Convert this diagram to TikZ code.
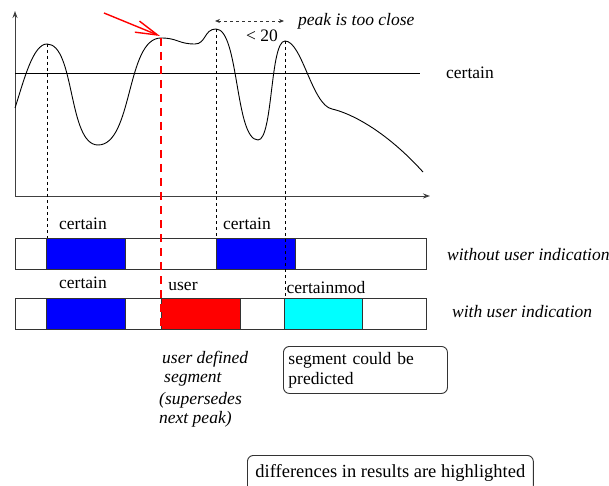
\documentclass[tikz,border=0pt]{standalone}
\usepackage{fontspec}
\setmainfont{Liberation Serif}
\usetikzlibrary{arrows.meta}
\definecolor{cyanfill}{RGB}{0,255,255}
\definecolor{bluefill}{RGB}{0,0,255}
\definecolor{redfill}{RGB}{255,0,0}
\begin{document}
\begin{tikzpicture}[x=1pt,y=-1pt,
  every node/.style={font=\rmfamily\fontsize{17.5}{20}\selectfont, inner sep=0pt},
  itl/.style={font=\rmfamily\itshape\fontsize{17.5}{20}\selectfont},
  axis/.style={draw=black!75, line width=0.9pt, -{Stealth[length=7pt,width=5pt]}},
  curve/.style={line width=0.9pt},
  guide/.style={line width=0.8pt, dash pattern=on 3pt off 3pt},
  redguide/.style={draw=redfill, line width=1.8pt, dash pattern=on 8pt off 6pt},
  gap/.style={guide, draw=black!80, {Stealth[length=5pt,width=4pt]}-{Stealth[length=5pt,width=4pt]}},
  bar/.style={draw=black!80, line width=0.9pt},
  roundbox/.style={draw=black!80, rounded corners=6pt, line width=0.9pt}
]
\useasboundingbox (0,0) rectangle (609,486);

% axes
\coordinate (O) at (15,196);
\coordinate (ytop) at (15,11);
\coordinate (xend) at (430,196);
\draw[axis] (O) -- (ytop);
\draw[axis] (O) -- (xend);

% threshold line
\coordinate (t0) at (15,73);
\coordinate (t1) at (420,73);
\draw[line width=0.9pt] (t0) -- (t1);
\node (certlbl) at (470,73) {certain};

% peaks
\coordinate (p1) at (47,44);
\coordinate (p2) at (161,38);
\coordinate (p3) at (216,29);
\coordinate (p4) at (285,41);

% curve
\draw[curve] (15,108) .. controls (24,80) and (33,44) .. (p1)
  .. controls (75,44) and (68,145) .. (98,145)
  .. controls (133,145) and (126,38) .. (p2)
  .. controls (178,38) and (178,44) .. (195,44)
  .. controls (206,44) and (204,29) .. (p3)
  .. controls (239,29) and (235,140) .. (258,140)
  .. controls (273,140) and (270,41) .. (p4)
  .. controls (302,41) and (312,105) .. (332,109)
  .. controls (350,113) and (385,130) .. (423,172);

% bars
\coordinate (b1a) at (15,238);
\coordinate (b1b) at (426,269);
\coordinate (b2a) at (15,298);
\coordinate (b2b) at (426,329);
\draw[bar, fill=white] (b1a) rectangle (b1b);
\draw[bar, fill=bluefill] (46,238) rectangle (125,269);
\draw[bar, fill=bluefill] (216,238) rectangle (295,269);
\draw[bar, fill=white] (b2a) rectangle (b2b);
\draw[bar, fill=bluefill] (46,298) rectangle (125,329);
\draw[bar, fill=redfill] (161,298) rectangle (240,329);
\draw[bar, fill=cyanfill] (284,298) rectangle (362,329);

% guides
\coordinate (g1) at (47,238);
\coordinate (g3) at (216,238);
\coordinate (g4) at (285,298);
\coordinate (g2) at (161,329);
\draw[guide] (p1) -- (g1);
\draw[guide] (p3) -- (g3);
\draw[guide] (p4) -- (g4);
\draw[redguide] (p2) -- (g2);

% red arrow
\coordinate (ra) at (104,13);
\coordinate (rb) at (160,36);
\draw[redfill, line width=1.4pt, -{Straight Barb[length=22pt,width=12pt]}] (ra) -- (rb);

% distance arrow
\coordinate (d1) at (215,21);
\coordinate (d2) at (284,21);
\draw[gap] (d1) -- (d2);
\node (lt) at (262,36) {< 20};
\node[itl, anchor=west] (pk) at (298,21) {peak is too close};

% bar labels
\node (c1) at (83,224) {certain};
\node (c2) at (247,224) {certain};
\node (c3) at (83,283) {certain};
\node (us) at (183,286) {user};
\node (cm) at (326,288) {certainmod};
\node[itl, anchor=west] (wo) at (447,255) {without user indication};
\node[itl, anchor=west] (wi) at (452,312) {with user indication};

% user defined text
\node[itl, anchor=base west] (ud1) at (162,363) {user defined};
\node[itl, anchor=base west] (ud2) at (164,382) {segment};
\node[itl, anchor=base west] (ud3) at (159,404) {(supersedes};
\node[itl, anchor=base west] (ud4) at (159,423) {next peak)};

% boxes
\node[roundbox, anchor=north west, minimum width=164pt, minimum height=47pt,
      text width=154pt, align=left, inner xsep=5pt] (pred) at (283,346)
      {segment could be\\predicted};
\node[roundbox, anchor=north west, minimum height=36pt, inner xsep=8pt,
      font=\rmfamily\fontsize{18.5}{21}\selectfont] (diff) at (247,455)
      {differences in results are highlighted};
\end{tikzpicture}
\end{document}
